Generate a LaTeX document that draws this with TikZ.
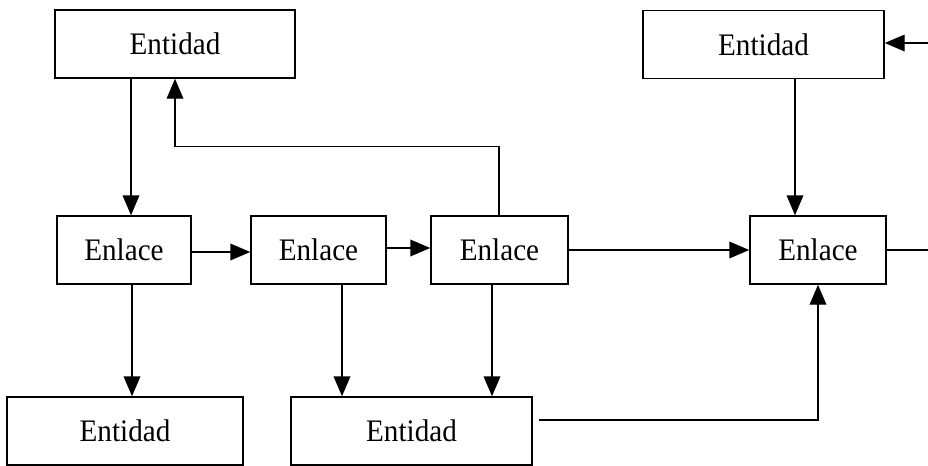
\documentclass[tikz,border=0pt]{standalone}
\usepackage{fontspec}
\setmainfont{Liberation Serif}[FakeStretch=0.93]
\usetikzlibrary{arrows.meta}
\begin{document}
\begin{tikzpicture}[x=0.75pt,y=-0.75pt,
  box/.style={draw, line width=1.1pt, inner sep=0pt, minimum height=51pt,
    font=\fontsize{23.5}{27}\selectfont},
  arr/.style={line width=1.1pt, -{Triangle[length=15pt,width=12.5pt]}},
  wire/.style={line width=1.1pt}]
\useasboundingbox (0,0) rectangle (928,465);

% entities and links
\node[box, minimum width=180pt]    (ent1) at (175,44)    {Entidad};
\node[box, minimum width=180.75pt] (ent2) at (763.5,44.5) {Entidad};
\node[box, minimum width=100.5pt]  (enl1) at (124,250)   {Enlace};
\node[box, minimum width=101.25pt] (enl2) at (318.5,250) {Enlace};
\node[box, minimum width=102.75pt] (enl3) at (499.5,250) {Enlace};
\node[box, minimum width=102pt]    (enl4) at (818,250)   {Enlace};
\node[box, minimum width=177pt]    (ent3) at (125,431)   {Entidad};
\node[box, minimum width=180.75pt] (ent4) at (411.5,431) {Entidad};

% x positions of the vertical connectors
\coordinate (x131) at (131,0);
\coordinate (x132) at (132,0);
\coordinate (x342) at (342,0);
\coordinate (x492) at (492,0);
\coordinate (x499) at (499,0);
\coordinate (x795) at (795,0);
% free ends at the right border
\coordinate (outA) at (928,250);
\coordinate (outB) at (928,43);

% connectors
\draw[arr] (ent1.south -| x131) -- (enl1.north -| x131);
\draw[arr] (enl3.north -| x499) -- ++(0,-69) -| (ent1.south);
\draw[arr] ([yshift=-1.5pt]enl1.east) -- ([yshift=-1.5pt]enl2.west);
\draw[arr] ([yshift=1.5pt]enl2.east) -- ([yshift=1.5pt]enl3.west);
\draw[arr] (enl3.east) -- (enl4.west);
\draw[arr] (ent2.south -| x795) -- (enl4.north -| x795);
\draw[wire] (enl4.east) -- (outA);
\draw[arr] (outB) -- (outB -| ent2.east);
\draw[arr] (enl1.south -| x132) -- (ent3.north -| x132);
\draw[arr] (enl2.south -| x342) -- (ent4.north -| x342);
\draw[arr] (enl3.south -| x492) -- (ent4.north -| x492);
\draw[arr] ([xshift=4.5pt,yshift=8.25pt]ent4.east) -| (enl4.south);
\end{tikzpicture}
\end{document}
